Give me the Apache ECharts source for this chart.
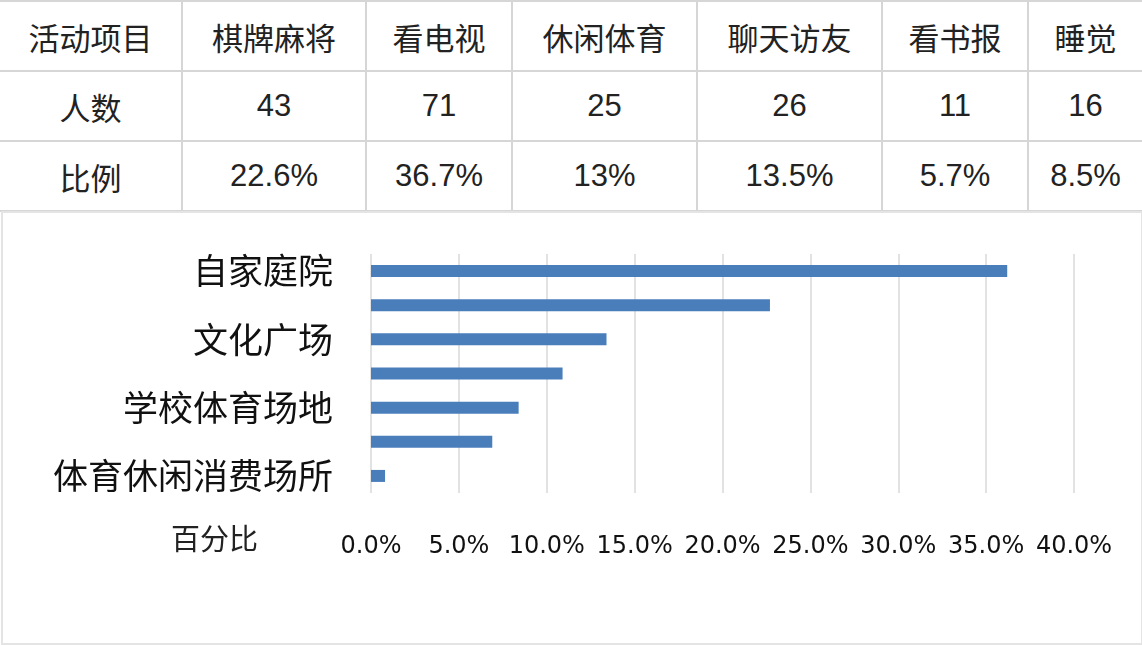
<!DOCTYPE html>
<html>
<head>
<meta charset="utf-8">
<script src="https://cdn.jsdelivr.net/npm/echarts@6/dist/echarts.min.js"></script>
<style>
    body { margin: 0; background: #fff; font-family: "Liberation Sans", "Noto Sans CJK SC", sans-serif; }
    .stat-table {
        position: absolute; left: 0; top: 0;
        border-collapse: collapse; table-layout: fixed; width: 1142px;
        color: #222; font-size: 31px;
    }
    .stat-table td {
        height: 68px; padding: 0; text-align: center;
        border: 2px solid #d6d6d6;
    }
    .stat-table tr td:first-child { border-left: none; }
    .stat-table tr td:last-child { border-right: none; }
    .chart-box {
        position: absolute; left: 1px; top: 211px; width: 1138px; height: 430px;
        border: 2px solid #e4e4e4;
    }
    #chart { width: 1138px; height: 430px; }
</style>
</head>
<body>
<table class="stat-table" id="statTable"></table>
<div class="chart-box"><div id="chart"></div></div>
<script>
// table data
const activities = ['棋牌麻将', '看电视', '休闲体育', '聊天访友', '看书报', '睡觉'];
const counts = [43, 71, 25, 26, 11, 16];
const ratios = ['22.6%', '36.7%', '13%', '13.5%', '5.7%', '8.5%'];
const colWidths = [182, 184, 146, 185, 185, 146, 114];

// chart data (top to bottom)
const places = ['自家庭院', '公园', '文化广场', '社区活动中心', '学校体育场地', '街道空地', '体育休闲消费场所'];
const percents = [36.2, 22.7, 13.4, 10.9, 8.4, 6.9, 0.8];
const seriesName = '百分比';

const $table = document.getElementById('statTable');
const $cols = document.createElement('colgroup');
colWidths.forEach(w => {
    const $c = document.createElement('col');
    $c.style.width = w + 'px';
    $cols.appendChild($c);
});
$table.appendChild($cols);
[['活动项目'].concat(activities), ['人数'].concat(counts), ['比例'].concat(ratios)].forEach(row => {
    const $tr = document.createElement('tr');
    row.forEach(v => {
        const $td = document.createElement('td');
        $td.textContent = v;
        $tr.appendChild($td);
    });
    $table.appendChild($tr);
});

const ins = echarts.init(document.getElementById('chart'));
ins.setOption({
    animation: false,
    legend: {
        data: [{ name: seriesName, icon: 'none' }],
        left: 158,
        top: 306,
        itemWidth: 0,
        textStyle: { fontSize: 29, color: '#222', fontFamily: 'Noto Sans CJK SC' }
    },
    grid: { left: 368, right: 67, top: 41, bottom: 150 },
    xAxis: {
        type: 'value',
        min: 0,
        max: 40,
        interval: 5,
        axisLine: { show: false },
        axisTick: { show: false },
        splitLine: { lineStyle: { color: '#d9d9d9', width: 1.5 } },
        axisLabel: {
            margin: 42,
            fontSize: 24,
            color: '#111',
            fontFamily: 'DejaVu Sans',
            formatter: v => v.toFixed(1) + '%'
        }
    },
    yAxis: {
        type: 'category',
        inverse: true,
        data: places,
        axisLine: { show: false },
        axisTick: { show: false },
        axisLabel: {
            interval: 1,
            margin: 38,
            fontSize: 35,
            color: '#111',
            fontFamily: 'Noto Sans CJK SC'
        }
    },
    series: [{
        name: seriesName,
        type: 'bar',
        data: percents,
        barWidth: 12,
        itemStyle: { color: '#4a7ebb' }
    }]
});
</script>
</body>
</html>
